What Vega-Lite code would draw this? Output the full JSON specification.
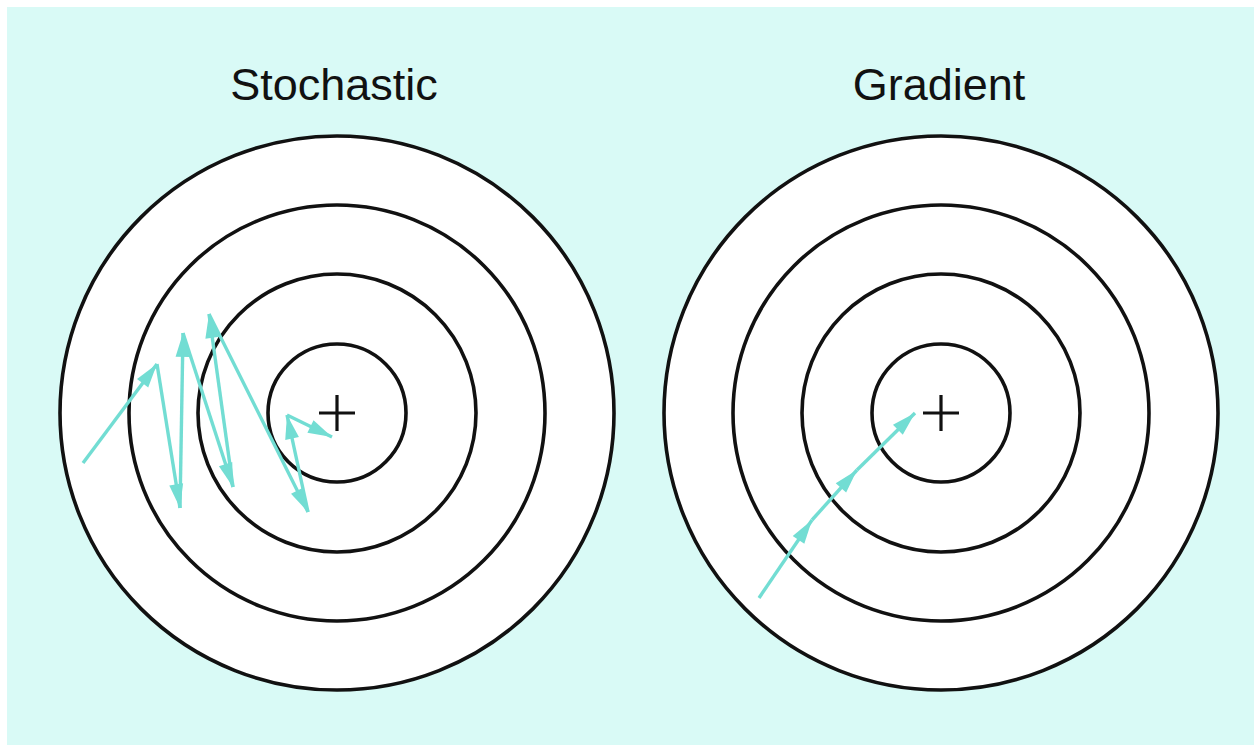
{
  "$schema": "https://vega.github.io/schema/vega-lite/v6.json",
  "autosize": {"type": "none"},
  "padding": {"left": 7, "top": 7, "right": 0, "bottom": 0},
  "width": 1247,
  "height": 738,
  "background": "white",
  "config": {"view": {"fill": "#d9faf6", "stroke": null}},
  "datasets": {
    "rings": [
      {"panel": "Stochastic", "cx": 0, "cy": 0, "r": 277},
      {"panel": "Stochastic", "cx": 0, "cy": 0, "r": 208},
      {"panel": "Stochastic", "cx": 0, "cy": 0, "r": 139},
      {"panel": "Stochastic", "cx": 0, "cy": 0, "r": 69},
      {"panel": "Gradient", "cx": 604, "cy": 0, "r": 277},
      {"panel": "Gradient", "cx": 604, "cy": 0, "r": 208},
      {"panel": "Gradient", "cx": 604, "cy": 0, "r": 139},
      {"panel": "Gradient", "cx": 604, "cy": 0, "r": 69}
    ],
    "steps": [
      {"panel": "Stochastic", "step": 1, "x0": -254, "y0": -50, "x1": -180, "y1": 49, "heading": 36.8},
      {"panel": "Stochastic", "step": 2, "x0": -180, "y0": 49, "x1": -157, "y1": -95, "heading": 170.9},
      {"panel": "Stochastic", "step": 3, "x0": -157, "y0": -95, "x1": -154, "y1": 80, "heading": 1.0},
      {"panel": "Stochastic", "step": 4, "x0": -154, "y0": 80, "x1": -104, "y1": -74, "heading": 162.0},
      {"panel": "Stochastic", "step": 5, "x0": -104, "y0": -74, "x1": -128, "y1": 99, "heading": -7.9},
      {"panel": "Stochastic", "step": 6, "x0": -128, "y0": 99, "x1": -29, "y1": -99, "heading": 153.4},
      {"panel": "Stochastic", "step": 7, "x0": -29, "y0": -99, "x1": -50, "y1": -2, "heading": -12.2},
      {"panel": "Stochastic", "step": 8, "x0": -50, "y0": -2, "x1": -5, "y1": -24, "heading": 116.1},
      {"panel": "Gradient", "step": 1, "x0": 422, "y0": -185, "x1": 475, "y1": -107, "heading": 34.2},
      {"panel": "Gradient", "step": 2, "x0": 475, "y0": -107, "x1": 520, "y1": -57, "heading": 42.0},
      {"panel": "Gradient", "step": 3, "x0": 520, "y0": -57, "x1": 578, "y1": 0, "heading": 45.5}
    ],
    "centers": [
      {"panel": "Stochastic", "cx": 0, "cy": 0},
      {"panel": "Gradient", "cx": 604, "cy": 0}
    ],
    "titles": [
      {"label": "Stochastic", "tx": -3, "ty": 313},
      {"label": "Gradient", "tx": 602, "ty": 313}
    ]
  },
  "layer": [
    {
      "data": {"name": "rings"},
      "transform": [{"filter": "datum.r > 270"}],
      "mark": {"type": "point", "shape": "circle", "filled": true, "color": "white", "opacity": 1, "strokeWidth": 0},
      "encoding": {
        "x": {"field": "cx", "type": "quantitative", "scale": {"domain": [-330, 917], "nice": false, "zero": false}, "axis": null},
        "y": {"field": "cy", "type": "quantitative", "scale": {"domain": [-332, 406], "nice": false, "zero": false}, "axis": null},
        "size": {"field": "r", "type": "quantitative", "scale": {"type": "pow", "exponent": 2, "domain": [0, 277], "range": [0, 306916], "nice": false}, "legend": null}
      }
    },
    {
      "data": {"name": "rings"},
      "mark": {"type": "point", "shape": "circle", "filled": false, "stroke": "#111111", "strokeWidth": 3.6, "opacity": 1},
      "encoding": {
        "x": {"field": "cx", "type": "quantitative"},
        "y": {"field": "cy", "type": "quantitative"},
        "size": {"field": "r", "type": "quantitative", "legend": null}
      }
    },
    {
      "data": {"name": "centers"},
      "mark": {"type": "point", "shape": "M-1,0H1M0,-1V1", "filled": false, "stroke": "#111111", "strokeWidth": 3.2, "opacity": 1, "size": 1296},
      "encoding": {
        "x": {"field": "cx", "type": "quantitative"},
        "y": {"field": "cy", "type": "quantitative"}
      }
    },
    {
      "data": {"name": "steps"},
      "mark": {"type": "rule", "color": "#72ddd3", "strokeWidth": 3.4},
      "encoding": {
        "x": {"field": "x0", "type": "quantitative"},
        "y": {"field": "y0", "type": "quantitative"},
        "x2": {"field": "x1"},
        "y2": {"field": "y1"}
      }
    },
    {
      "data": {"name": "steps"},
      "mark": {"type": "point", "shape": "M0,0L-0.7,2.4L0.7,2.4Z", "filled": true, "color": "#72ddd3", "opacity": 1, "size": 400, "strokeWidth": 0},
      "encoding": {
        "x": {"field": "x1", "type": "quantitative"},
        "y": {"field": "y1", "type": "quantitative"},
        "angle": {"field": "heading", "type": "quantitative", "scale": null}
      }
    },
    {
      "data": {"name": "titles"},
      "mark": {"type": "text", "font": "Liberation Sans", "fontSize": 45, "color": "#111111", "align": "center", "baseline": "alphabetic"},
      "encoding": {
        "x": {"field": "tx", "type": "quantitative"},
        "y": {"field": "ty", "type": "quantitative"},
        "text": {"field": "label"}
      }
    }
  ]
}
